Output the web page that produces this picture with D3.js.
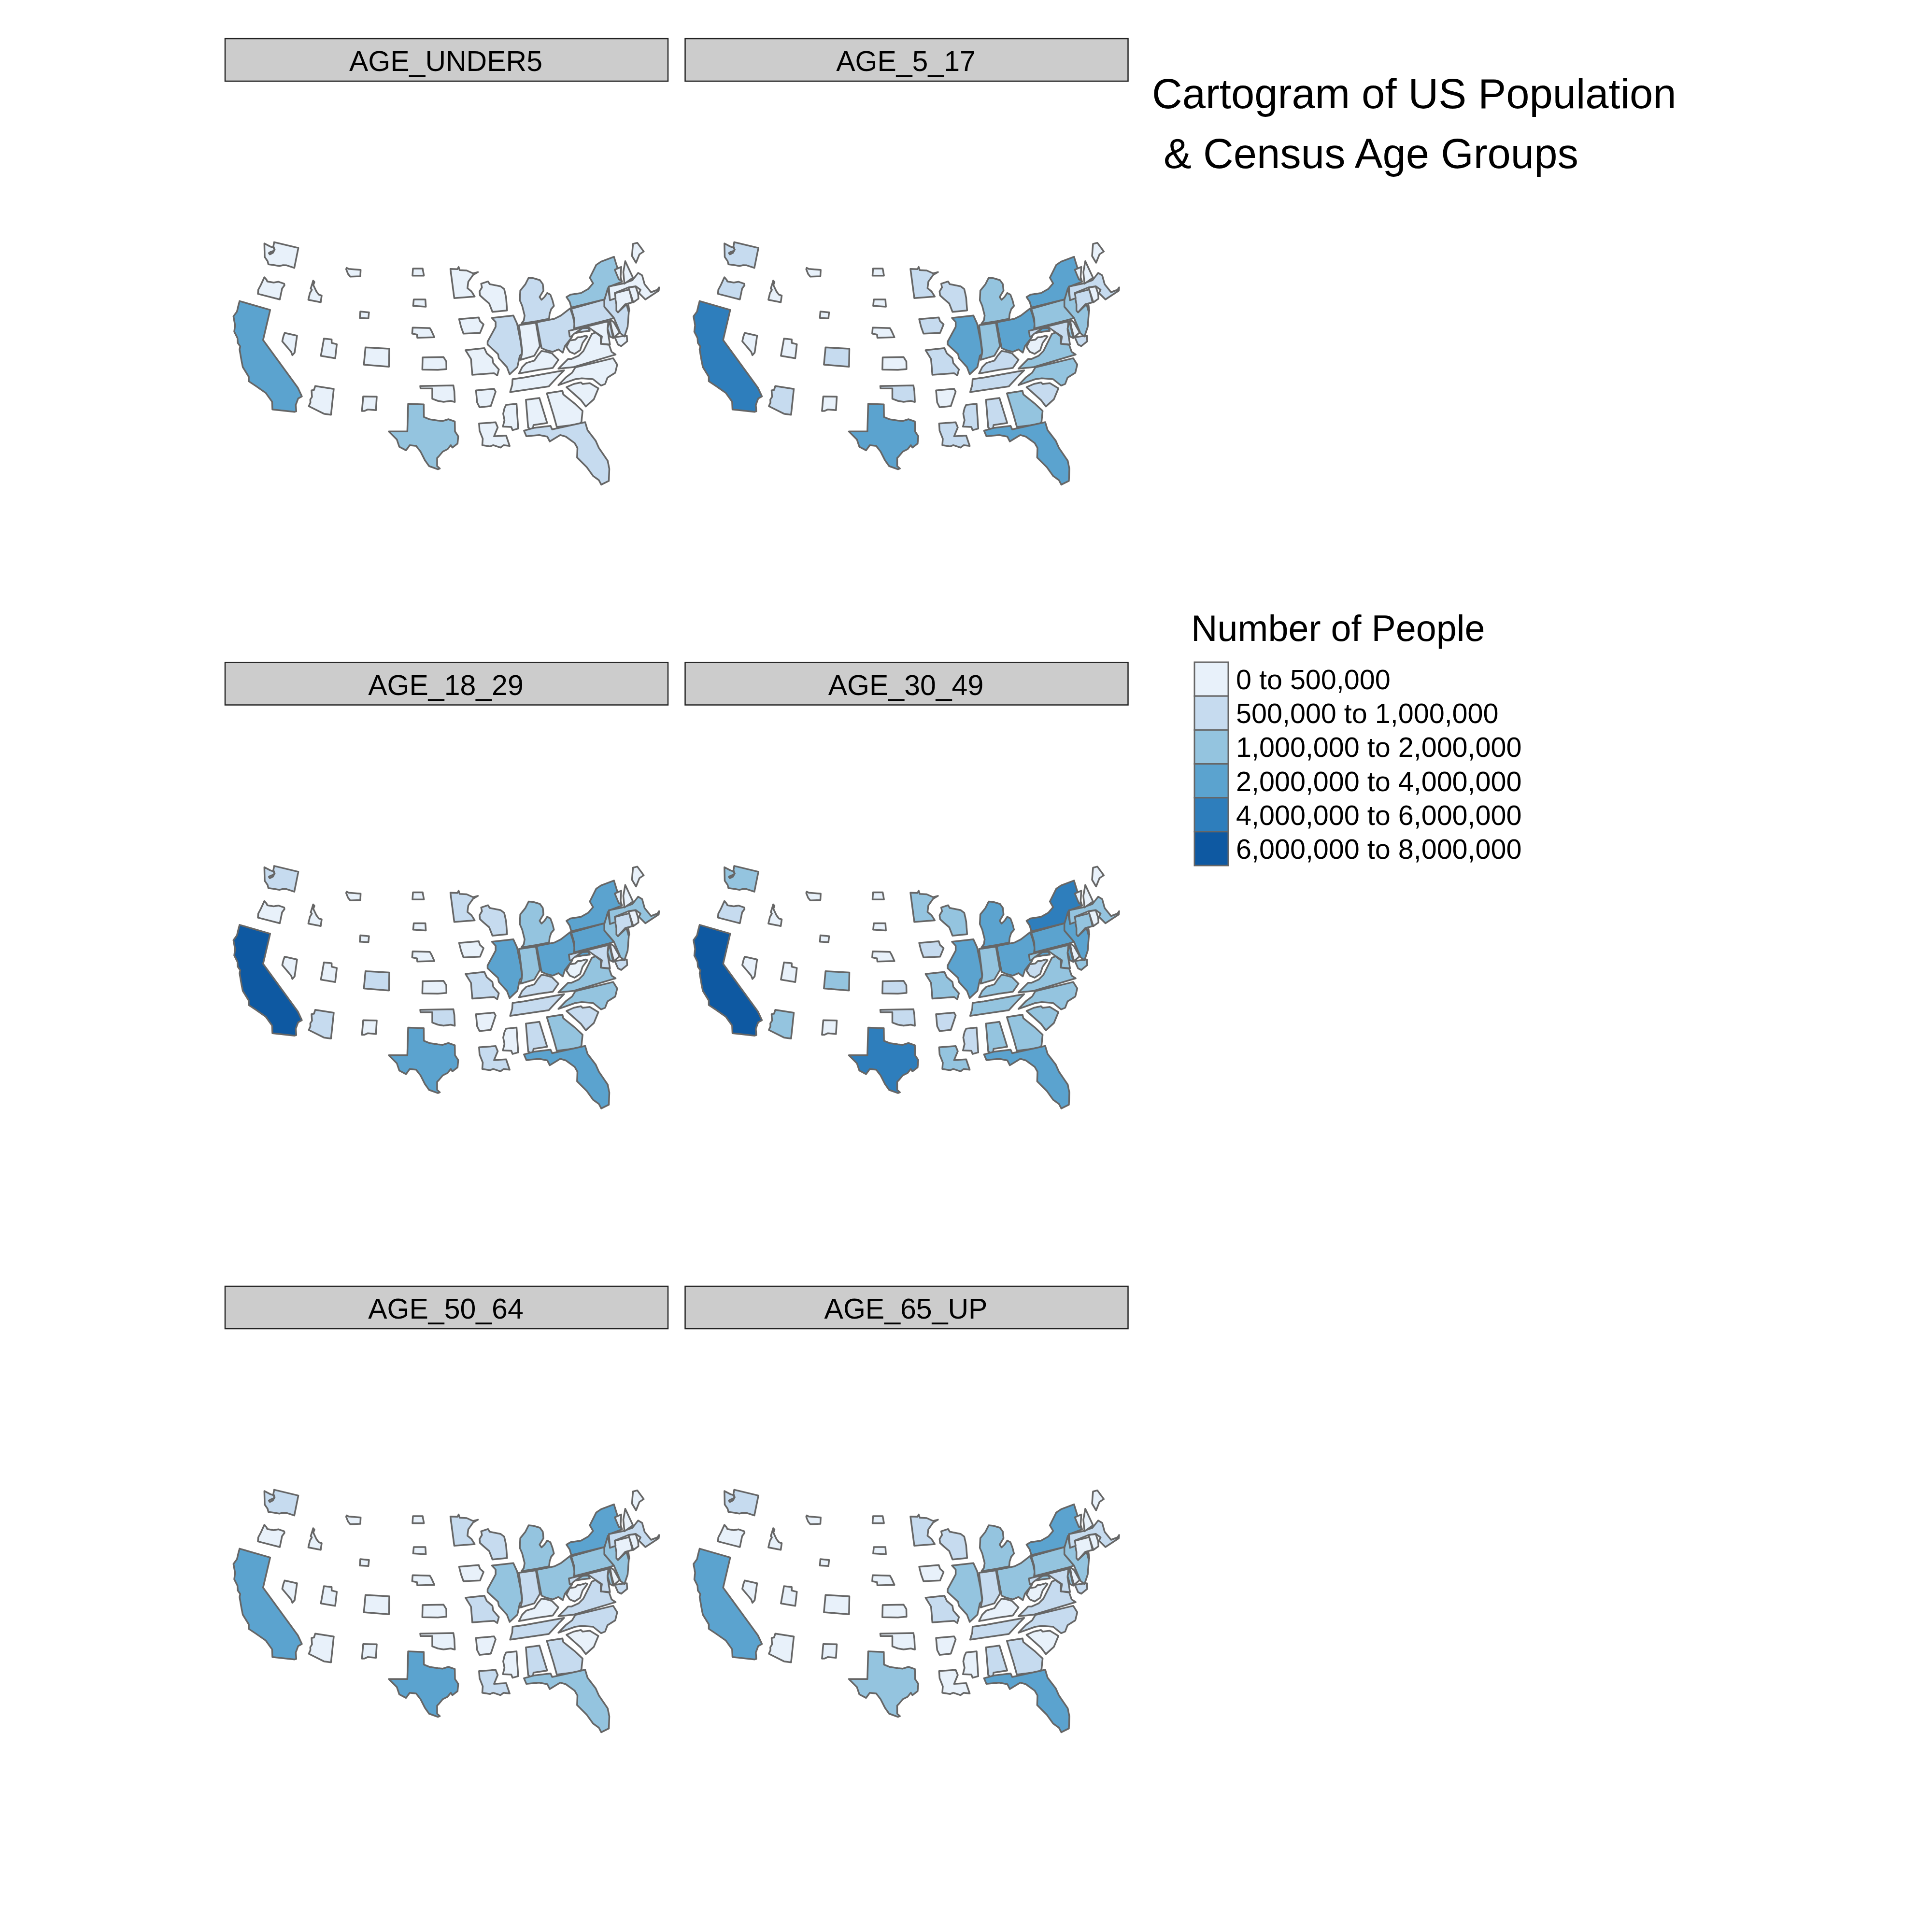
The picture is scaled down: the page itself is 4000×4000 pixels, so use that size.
<!DOCTYPE html>
<meta charset="utf-8">
<style>
  html, body { margin: 0; background: #fff; }
  text { font-family: "Liberation Sans", Arial, sans-serif; fill: #000; }
</style>

<!-- Load d3.js -->
<script src="https://d3js.org/d3.v7.min.js"></script>

<div id="my_dataviz"></div>

<script>

const ageGroups = ["AGE_UNDER5", "AGE_5_17", "AGE_18_29", "AGE_30_49", "AGE_50_64", "AGE_65_UP"]
const classLabels = ["0 to 500,000", "500,000 to 1,000,000", "1,000,000 to 2,000,000",
  "2,000,000 to 4,000,000", "4,000,000 to 6,000,000", "6,000,000 to 8,000,000"]
const classColors = ["#E8F1FA", "#C6DBEF", "#94C4DF", "#5BA3CF", "#2E7EBC", "#0E59A2"]
const titleLines = ["Cartogram of US Population", "& Census Age Groups"]
const legendTitle = "Number of People"

// states, same order as the class lists below
const stateNames = ["WA","OR","CA","NV","ID","MT","WY","UT","AZ","NM","CO","ND","SD","NE","KS","OK","TX",
  "MN","IA","MO","AR","LA","WI","IL","MS","AL","TN","KY","IN","MI","OH","GA","FL","SC","NC","VA","WV",
  "PA","NY","MD","DE","NJ","CT","RI","MA","VT","NH","ME"]

// class for each state (index into classLabels)
//                    WA OR CA NV ID MT WY UT AZ NM CO ND SD NE KS OK TX MN IA MO AR LA WI IL MS AL TN KY IN MI OH GA FL SC NC VA WV PA NY MD DE NJ CT RI MA VT NH ME
const ageUnder5 =    [0, 0, 3, 0, 0, 0, 0, 0, 0, 0, 0, 0, 0, 0, 0, 0, 2, 0, 0, 0, 0, 0, 0, 1, 0, 0, 0, 0, 0, 1, 1, 0, 1, 0, 0, 0, 0, 1, 2, 0, 0, 1, 0, 0, 0, 0, 0, 0]
const age5to17 =     [1, 1, 4, 0, 0, 0, 0, 0, 1, 0, 1, 0, 0, 0, 0, 1, 3, 1, 1, 1, 0, 1, 1, 3, 1, 1, 1, 1, 2, 2, 3, 2, 3, 1, 2, 2, 0, 2, 3, 1, 0, 2, 1, 0, 1, 0, 0, 0]
const age18to29 =    [1, 0, 5, 0, 0, 0, 0, 0, 1, 0, 1, 0, 0, 0, 0, 1, 3, 1, 0, 1, 0, 1, 1, 3, 0, 1, 1, 1, 2, 2, 3, 2, 3, 1, 2, 2, 0, 3, 3, 1, 0, 2, 1, 0, 2, 0, 0, 0]
const age30to49 =    [2, 1, 5, 0, 0, 0, 0, 0, 2, 0, 2, 0, 0, 0, 1, 1, 4, 2, 1, 2, 1, 2, 2, 3, 1, 2, 2, 2, 2, 3, 3, 2, 3, 2, 2, 2, 1, 3, 4, 2, 0, 3, 2, 0, 2, 0, 0, 0]
const age50to64 =    [1, 0, 3, 0, 0, 0, 0, 0, 0, 0, 0, 0, 0, 0, 0, 0, 3, 1, 0, 1, 0, 1, 1, 2, 0, 1, 1, 0, 1, 2, 2, 1, 2, 0, 1, 1, 0, 2, 3, 1, 0, 2, 0, 0, 1, 0, 0, 0]
const age65up =      [1, 0, 3, 0, 0, 0, 0, 0, 0, 0, 0, 0, 0, 0, 0, 0, 2, 1, 0, 1, 0, 0, 1, 2, 0, 1, 1, 0, 1, 2, 2, 1, 3, 0, 1, 1, 0, 2, 3, 1, 0, 2, 0, 0, 1, 0, 0, 0]
const ageClasses = [ageUnder5, age5to17, age18to29, age30to49, age50to64, age65up]

// state outlines, traced by hand in map units
const westShapes = {
  WA: [[[262,72],[300,92],[318,98],[326,110],[316,120],[300,125],[290,132],[296,140],[315,130],[325,112],[322,100],[318,90],[323,64],[473,100],[448,224],[400,208],[378,207],[355,212],[320,206],[287,202],[282,182],[264,156]]],
  OR: [[[262,282],[276,298],[280,308],[320,315],[350,310],[385,322],[387,332],[372,352],[358,420],[222,385],[224,360],[240,330]]],
  CA: [[[108,430],[298,485],[254,672],[470,968],[495,1022],[472,1035],[457,1075],[460,1115],[450,1118],[312,1103],[310,1055],[270,1000],[210,958],[165,928],[165,900],[128,840],[120,800],[108,730],[112,712],[97,690],[95,660],[75,620],[80,580],[70,525],[92,495],[100,460]]],
  NV: [[[388,628],[465,645],[450,750],[436,766],[428,745],[373,680],[380,650]]],
  ID: [[[565,303],[573,312],[566,330],[585,370],[600,390],[618,396],[612,437],[535,422],[545,380],[557,360],[550,352],[560,320]]],
  MT: [[[773,224],[785,230],[860,236],[858,276],[795,278],[782,262],[770,232]]],
  WY: [[[858,495],[912,500],[908,538],[855,535]]],
  UT: [[[632,663],[680,668],[680,690],[712,698],[702,785],[613,770]]],
  AZ: [[[578,958],[693,976],[676,1136],[632,1130],[538,1083],[548,1060],[547,1042],[558,1025],[555,985],[570,982]]],
  NM: [[[876,1022],[960,1024],[955,1108],[905,1103],[885,1112],[868,1113]]],
  CO: [[[890,718],[1038,726],[1036,838],[880,825]]],
  ND: [[[1185,228],[1245,228],[1253,272],[1182,272]]],
  SD: [[[1190,420],[1262,420],[1265,465],[1186,460]]],
  NE: [[[1183,595],[1290,598],[1300,615],[1318,655],[1212,658],[1210,638],[1180,632]]],
  KS: [[[1245,780],[1375,778],[1392,805],[1393,853],[1340,857],[1243,856]]],
  OK: [[[1230,958],[1436,954],[1442,990],[1445,1057],[1420,1050],[1375,1056],[1340,1050],[1305,1037],[1305,973],[1232,973]]],
  TX: [[[1155,1068],[1252,1072],[1253,1150],[1290,1165],[1340,1172],[1370,1175],[1405,1164],[1445,1178],[1446,1240],[1466,1270],[1462,1315],[1430,1340],[1420,1325],[1400,1350],[1370,1365],[1345,1395],[1335,1405],[1335,1455],[1352,1470],[1340,1475],[1285,1455],[1260,1420],[1232,1365],[1205,1330],[1165,1325],[1142,1357],[1100,1335],[1085,1290],[1035,1240],[1150,1240]]]
}

const eastShapes = {
  MN: [[[84,230],[128,232],[135,218],[142,238],[185,240],[225,258],[255,250],[225,268],[195,310],[190,350],[215,370],[235,402],[108,412]]],
  IA: [[[138,542],[260,532],[268,555],[290,575],[268,628],[165,632],[150,590]]],
  MO: [[[178,735],[295,722],[310,755],[345,785],[350,815],[385,855],[375,892],[355,878],[220,888],[212,790]]],
  AR: [[[243,985],[355,975],[365,993],[335,1082],[265,1090],[250,1060]]],
  LA: [[[262,1190],[365,1183],[378,1215],[355,1270],[430,1265],[452,1330],[415,1325],[395,1340],[350,1325],[330,1333],[282,1325],[285,1285],[265,1235]]],
  WI: [[[275,322],[318,308],[328,325],[395,338],[418,355],[425,385],[430,410],[436,488],[345,497],[325,445],[290,415],[268,395],[265,370],[280,345]]],
  IL: [[[342,535],[475,520],[498,570],[520,680],[530,755],[515,770],[500,840],[452,885],[435,840],[385,785],[380,760],[315,700],[315,682],[365,590],[365,560]]],
  MS: [[[430,1075],[495,1068],[505,1222],[470,1232],[462,1212],[410,1210],[420,1170],[412,1130],[420,1095]]],
  AL: [[[553,1043],[637,1032],[685,1187],[600,1200],[597,1220],[580,1225],[567,1215]]],
  TN: [[[470,915],[540,905],[790,860],[760,890],[695,960],[455,995],[468,950]]],
  KY: [[[650,740],[680,745],[715,755],[755,795],[720,845],[630,858],[510,880],[530,840],[555,815],[605,800],[625,770]]],
  IN: [[[510,580],[615,565],[640,710],[605,770],[520,795],[528,760],[530,740]]],
  MI: [[[570,285],[600,288],[640,300],[658,325],[662,365],[650,385],[638,405],[650,422],[668,405],[685,380],[705,390],[718,425],[727,460],[710,480],[700,510],[697,540],[620,555],[525,570],[540,550],[545,520],[530,460],[515,425],[518,365],[550,325]]],
  OH: [[[620,562],[730,540],[770,520],[828,475],[845,525],[855,570],[850,620],[838,655],[795,710],[782,750],[755,730],[720,745],[680,735],[650,722]],
       [[865,628],[905,598],[940,597],[950,615],[905,620]]],
  GA: [[[683,1003],[780,988],[785,1010],[860,1070],[905,1112],[898,1180],[885,1195],[745,1212],[725,1140]]],
  FL: [[[541,1235],[606,1217],[706,1205],[716,1227],[921,1182],[936,1232],[986,1297],[1006,1342],[1061,1422],[1071,1472],[1068,1547],[1021,1570],[1006,1542],[971,1517],[931,1462],[871,1402],[873,1342],[856,1312],[801,1272],[766,1262],[701,1302],[686,1272],[636,1262],[586,1267],[556,1270]]],
  SC: [[[805,965],[850,945],[895,935],[905,945],[950,940],[1003,972],[975,1040],[925,1085],[895,1045]]],
  NC: [[[860,842],[1095,785],[1120,825],[1108,875],[1060,905],[1045,945],[1020,955],[970,915],[900,910],[860,915],[755,952],[800,905],[840,875]]],
  VA: [[[755,850],[815,790],[835,790],[880,770],[910,740],[935,690],[962,635],[985,625],[1018,650],[1018,695],[1070,702],[1085,745],[1110,762],[850,840]]],
  WV: [[[890,655],[925,645],[935,650],[905,690],[890,735],[855,758],[825,745],[805,715],[825,675],[860,670],[875,655]]],
  PA: [[[835,478],[1040,420],[1045,470],[1100,535],[1070,545],[855,600],[853,540]]],
  NY: [[[805,405],[830,390],[895,380],[940,355],[970,320],[950,285],[990,205],[1020,185],[1100,155],[1120,220],[1150,310],[1070,340],[1060,375],[1040,420],[835,470],[825,435]],
       [[1170,470],[1190,455],[1195,490],[1187,505]]],
  MD: [[[820,615],[1065,555],[1060,610],[1075,700],[1018,695],[1025,650],[980,620],[945,595],[900,600],[850,635],[835,650],[825,650]],
       [[1105,655],[1135,650],[1180,645],[1182,680],[1145,710],[1125,700]]],
  DE: [[[1075,545],[1098,560],[1135,625],[1100,655],[1085,600]]],
  NJ: [[[1062,350],[1075,420],[1105,385],[1125,500],[1178,450],[1192,500],[1185,590],[1165,650],[1140,630],[1100,535],[1040,465],[1040,425]],
       [[1072,555],[1060,600],[1075,650],[1095,660]]],
  MA: [[[1068,340],[1160,320],[1215,300],[1250,255],[1275,270],[1290,325],[1330,375],[1370,360],[1380,345],[1378,365],[1295,420],[1255,380],[1265,360],[1235,338],[1190,345],[1105,380],[1110,412],[1075,425]]],
  CT: [[[1102,382],[1195,358],[1215,438],[1170,450],[1125,500],[1115,490],[1115,450]]],
  RI: [[[1190,345],[1235,340],[1250,385],[1252,415],[1220,438]]],
  VT: [[[1105,235],[1145,218],[1140,300],[1130,295]]],
  NH: [[[1170,182],[1218,285],[1165,322],[1158,250]]],
  ME: [[[1218,75],[1245,68],[1285,122],[1258,140],[1237,192],[1212,150],[1215,110]]]
}

const eastShift = 1333.5   // east outlines were traced from x = 1333.5 map units

const svg = d3.select("#my_dataviz")
  .append("svg")
    .attr("width", 4000)
    .attr("height", 4000)

// map units to pixels for the first panel, the others are translated from it
const mapX = d3.scaleLinear().domain([0, 1560]).range([460, 980])
const mapY = d3.scaleLinear().domain([0, 1560]).range([480, 1000])
const panelX = d3.scalePoint().domain([0, 1]).range([0, 952.5])
const panelY = d3.scalePoint().domain([0, 1, 2]).range([0, 2583])

const fillColor = d3.scaleOrdinal().domain(d3.range(classLabels.length)).range(classColors)

const lineWest = d3.line().x(d => mapX(d[0])).y(d => mapY(d[1])).curve(d3.curveLinearClosed)
const lineEast = d3.line().x(d => mapX(d[0] + eastShift)).y(d => mapY(d[1])).curve(d3.curveLinearClosed)

function statePath(name) {
  if (westShapes[name]) return westShapes[name].map(lineWest).join("")
  return eastShapes[name].map(lineEast).join("")
}

const panels = svg.selectAll("g.panel")
  .data(ageGroups)
  .join("g")
    .attr("class", "panel")
    .attr("transform", (d, i) => "translate(" + panelX(i % 2) + "," + panelY(Math.floor(i / 2)) + ")")

// strip on top of each panel
panels.append("rect")
  .attr("x", 466)
  .attr("y", 80)
  .attr("width", 917)
  .attr("height", 88)
  .attr("fill", "#CCCCCC")
  .attr("stroke", "#222")
  .attr("stroke-width", 2.5)

panels.append("text")
  .attr("x", 923)
  .attr("y", 147)
  .attr("text-anchor", "middle")
  .attr("font-size", 59)
  .text(d => d)

panels.each(function (group, i) {
  d3.select(this).selectAll("path")
    .data(stateNames)
    .join("path")
      .attr("d", statePath)
      .attr("fill", (d, j) => fillColor(ageClasses[i][j]))
      .attr("stroke", "#666")
      .attr("stroke-width", 3.5)
      .attr("stroke-linejoin", "round")
})

// title
svg.selectAll("text.title")
  .data(titleLines)
  .join("text")
    .attr("class", "title")
    .attr("x", (d, i) => i === 0 ? 2385 : 2409)
    .attr("y", (d, i) => i === 0 ? 224 : 348)
    .attr("font-size", 86.8)
    .text(d => d)

// legend
svg.append("text")
  .attr("x", 2466)
  .attr("y", 1327)
  .attr("font-size", 75.5)
  .text(legendTitle)

const legendY = d3.scaleBand().domain(classLabels).range([1371, 1792])

svg.selectAll("rect.swatch")
  .data(classLabels)
  .join("rect")
    .attr("class", "swatch")
    .attr("x", 2473)
    .attr("y", d => legendY(d))
    .attr("width", 70)
    .attr("height", legendY.bandwidth())
    .attr("fill", (d, i) => classColors[i])
    .attr("stroke", "#666")
    .attr("stroke-width", 3)

svg.selectAll("text.label")
  .data(classLabels)
  .join("text")
    .attr("class", "label")
    .attr("x", 2559)
    .attr("y", d => legendY(d) + legendY.bandwidth() / 2 + 21)
    .attr("font-size", 57.5)
    .text(d => d)

</script>
